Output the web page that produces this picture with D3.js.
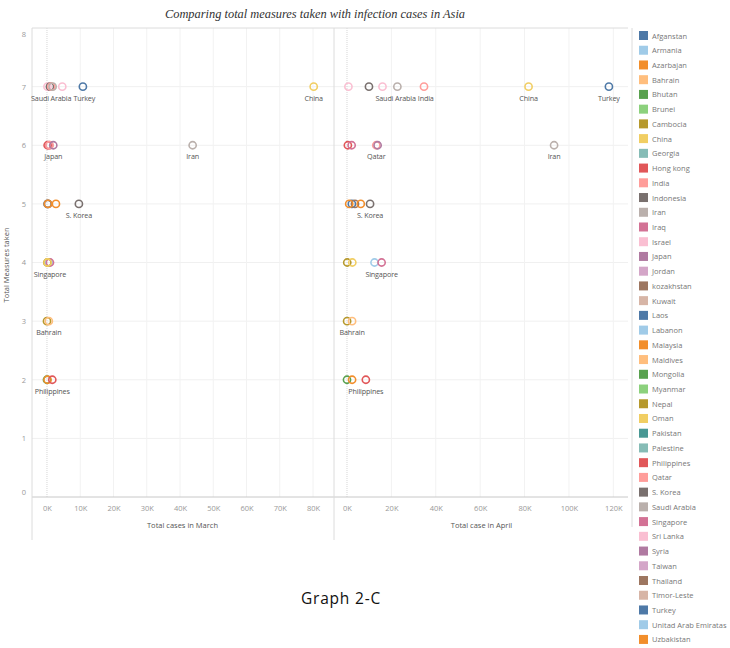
<!DOCTYPE html>
<html><head><meta charset="utf-8">
<script src="https://cdn.jsdelivr.net/npm/d3@7"></script>
<style>
body{margin:0;background:#fff;}
svg{display:block;}
</style></head>
<body>
<svg id="c" width="730" height="648"></svg>
<script>
// Legend categories (as written in the source chart) and their colours
const countries = ["Afganstan","Armania","Azarbajan","Bahrain","Bhutan","Brunei","Cambocia","China","Georgia","Hong kong","India","Indonesia","Iran","Iraq","Israel","Japan","Jordan","kozakhstan","Kuwait","Laos","Labanon","Malaysia","Maldives","Mongolia","Myanmar","Nepal","Oman","Pakistan","Palestine","Philippines","Qatar","S. Korea","Saudi Arabia","Singapore","Sri Lanka","Syria","Taiwan","Thailand","Timor-Leste","Turkey","Unitad Arab Emiratas","Uzbakistan"];
const countryColors = ["#4e79a7","#a0cbe8","#f28e2b","#ffbe7d","#59a14f","#8cd17d","#b6992d","#f1ce63","#86bcb6","#e15759","#ff9d9a","#79706e","#bab0ac","#d37295","#fabfd2","#b07aa1","#d4a6c8","#9d7660","#d7b5a6","#4e79a7","#a0cbe8","#f28e2b","#ffbe7d","#59a14f","#8cd17d","#b6992d","#f1ce63","#499894","#86bcb6","#e15759","#ff9d9a","#79706e","#bab0ac","#d37295","#fabfd2","#b07aa1","#d4a6c8","#9d7660","#d7b5a6","#4e79a7","#a0cbe8","#f28e2b"];

// Plotted points: country, total measures taken, cases end of March, cases end of April
const pointCountry = ["Sri Lanka","Indonesia","India","Saudi Arabia","Israel","Turkey","China",
  "Hong kong","Iraq","Qatar","Japan","Iran",
  "Afganstan","kozakhstan","Azarbajan","Malaysia","S. Korea",
  "Unitad Arab Emiratas","Singapore","Cambocia","Oman",
  "Nepal","Bahrain",
  "Bhutan","Uzbakistan","Philippines"];
const measures = [7,7,7,7,7,7,7, 6,6,6,6,6, 5,5,5,5,5, 4,4,4,4, 3,3, 2,2,2];
const casesMarch = [150,900,1300,1700,4600,10800,80200,
  200,700,780,1900,43800,
  170,340,270,2700,9600,
  660,900,110,190,
  10,560,
  10,170,1600];
const casesApril = [650,9900,34700,22700,16000,118000,81800,
  400,2100,13200,13800,93300,
  2200,3600,1000,6200,10400,
  12400,15600,120,2400,
  60,2300,
  10,2300,8500];
// Mark labels shown in each panel
const labelsMarch = ["Saudi Arabia","Turkey","China","Japan","Iran","S. Korea","Singapore","Bahrain","Philippines"];
const labelsApril = ["Saudi Arabia","India","China","Turkey","Qatar","Iran","S. Korea","Singapore","Bahrain","Philippines"];
const yTicks = [0,1,2,3,4,5,6,7,8];
const xTicksMarch = [0,10000,20000,30000,40000,50000,60000,70000,80000];
const xTicksApril = [0,20000,40000,60000,80000,100000,120000];

const svg = d3.select("#c");
const color = d3.scaleOrdinal().domain(countries).range(countryColors);
const plotTop = 28, axisY = 497, frameBottom = 540;
const y = d3.scaleLinear().domain([0,8]).range([axisY, plotTop]);
const panels = [
  {x: d3.scaleLinear().domain([-4500, 86000]).range([32, 333]), vals: casesMarch, ticks: xTicksMarch, labels: labelsMarch, title: "Total cases in March"},
  {x: d3.scaleLinear().domain([-5400, 126600]).range([335, 628]), vals: casesApril, ticks: xTicksApril, labels: labelsApril, title: "Total case in April"}
];
const fmtK = d => (d/1000) + "K";
const font = "'Open Sans', 'DejaVu Sans', sans-serif";

// title
svg.append("text").attr("x", 315).attr("y", 18).attr("text-anchor","middle")
  .attr("font-family","'Liberation Serif', 'DejaVu Serif', serif").attr("font-style","italic")
  .attr("font-size", 12.4).attr("fill","#333")
  .text("Comparing total measures taken with infection cases in Asia");

// gridlines (horizontal)
svg.append("g").selectAll("line").data(yTicks.filter(t => t>0 && t<8)).join("line")
  .attr("x1", 32).attr("x2", 628).attr("y1", d=>y(d)).attr("y2", d=>y(d))
  .attr("stroke","#f0f0f0").attr("stroke-width",1);

panels.forEach(p => {
  const [r0, r1] = p.x.range();
  svg.append("g").selectAll("line").data(p.ticks.filter(t=>t>0)).join("line")
    .attr("x1", d=>p.x(d)).attr("x2", d=>p.x(d)).attr("y1", plotTop).attr("y2", axisY)
    .attr("stroke","#f2f2f2");
  svg.append("line").attr("x1", p.x(0)).attr("x2", p.x(0)).attr("y1", plotTop).attr("y2", axisY)
    .attr("stroke","#d6d6d6").attr("stroke-dasharray","1,1");
  const ax = d3.axisBottom(p.x).tickValues(p.ticks).tickFormat(fmtK).tickSize(0).tickPadding(9);
  const g = svg.append("g").attr("transform", `translate(0,${axisY})`).call(ax);
  g.select(".domain").remove();
  g.selectAll("text").attr("font-family", font).attr("font-size", 7.5).attr("fill","#999");
  svg.append("text").attr("x", (r0+r1)/2).attr("y", 528).attr("text-anchor","middle")
    .attr("font-family", font).attr("font-size", 7.5).attr("fill","#555").text(p.title);
});

// frame lines
svg.append("line").attr("x1",32).attr("x2",628).attr("y1",plotTop).attr("y2",plotTop).attr("stroke","#dcdcdc");
svg.append("line").attr("x1",32).attr("x2",628).attr("y1",axisY).attr("y2",axisY).attr("stroke","#c8c8c8");
[32, 334].forEach(xx => svg.append("line").attr("x1",xx).attr("x2",xx).attr("y1",plotTop).attr("y2",frameBottom).attr("stroke","#dcdcdc"));
svg.append("line").attr("x1",632).attr("x2",632).attr("y1",plotTop).attr("y2",527).attr("stroke","#dcdcdc");

// y axis
const ay = d3.axisLeft(y).tickValues(yTicks).tickFormat(d3.format("d")).tickSize(0).tickPadding(6);
const gy = svg.append("g").attr("transform","translate(32,0)").call(ay);
gy.select(".domain").remove();
gy.selectAll("text").attr("font-family", font).attr("font-size", 7.5).attr("fill","#999");
gy.selectAll(".tick").filter(d=>d===8).select("text").attr("dy","1.1em");
gy.selectAll(".tick").filter(d=>d===0).select("text").attr("dy","-0.4em");
svg.append("text").attr("transform","translate(9,265) rotate(-90)").attr("text-anchor","middle")
  .attr("font-family", font).attr("font-size", 7.5).attr("fill","#555").text("Total Measures taken");

// points and labels
const idx = d3.range(pointCountry.length);
panels.forEach(p => {
  svg.append("g").selectAll("circle").data(idx).join("circle")
    .attr("cx", i => p.x(p.vals[i])).attr("cy", i => y(measures[i])).attr("r", 3.6)
    .attr("fill","none").attr("stroke", i => color(pointCountry[i])).attr("stroke-width", 1.6);
  const labs = svg.append("g").selectAll("text").data(idx.filter(i => p.labels.includes(pointCountry[i]))).join("text")
    .attr("x", i => p.x(p.vals[i])).attr("y", i => y(measures[i]) + 14).attr("text-anchor","middle")
    .attr("font-family", font).attr("font-size", 7.2).attr("letter-spacing", -0.15).attr("fill","#555")
    .text(i => pointCountry[i]);
  // simple collision avoidance: push apart labels sharing a row
  const items = labs.nodes().map(n => ({n, m: measures[d3.select(n).datum()], cx: +n.getAttribute("x"), w: n.getComputedTextLength()}));
  d3.groups(items, d => d.m).forEach(([, row]) => {
    row.sort((a,b) => a.cx - b.cx);
    for (let k = 1; k < row.length; k++) {
      const a = row[k-1], b = row[k];
      const o = (a.cx + a.w/2 + 2) - (b.cx - b.w/2);
      if (o > 0) { a.cx -= o/2; b.cx += o/2; }
    }
    row.forEach(d => d.n.setAttribute("x", d.cx));
  });
});

// legend
const lg = svg.append("g").selectAll("g").data(countries).join("g")
  .attr("transform", (d,i) => `translate(639,${31 + i*14.73})`);
lg.append("rect").attr("width", 9).attr("height", 9).attr("fill", d => color(d));
lg.append("text").attr("x", 13).attr("y", 7.5).attr("font-family", font).attr("font-size", 7.5)
  .attr("fill","#777").text(d => d);

// caption
svg.append("text").attr("x", 341).attr("y", 604).attr("text-anchor","middle")
  .attr("font-family","'Open Sans', sans-serif").attr("font-size", 15.5).attr("letter-spacing", 0.8).attr("fill","#111")
  .text("Graph 2-C");
</script>
</body></html>
